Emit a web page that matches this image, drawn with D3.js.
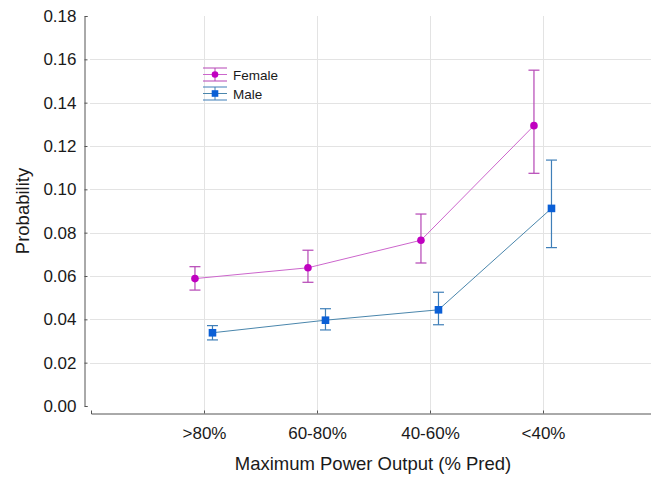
<!DOCTYPE html>
<html>
<head>
<meta charset="utf-8">
<script src="https://cdn.jsdelivr.net/npm/d3@7"></script>
<style>
  body { margin: 0; background: #fff; }
  svg { display: block; font-family: "Liberation Sans", Arial, sans-serif; }
</style>
</head>
<body>
<script>
const categories = [">80%", "60-80%", "40-60%", "<40%"];
const femaleMean = [0.0588, 0.0638, 0.0765, 0.1294];
const femaleLow  = [0.0535, 0.0571, 0.0660, 0.1074];
const femaleHigh = [0.0643, 0.0719, 0.0886, 0.1550];
const maleMean = [0.0338, 0.0396, 0.0444, 0.0912];
const maleLow  = [0.0305, 0.0351, 0.0375, 0.0731];
const maleHigh = [0.0371, 0.0449, 0.0525, 0.1135];
const yTicks = [0, 0.02, 0.04, 0.06, 0.08, 0.10, 0.12, 0.14, 0.16, 0.18];

const WIDTH = 651;
const HEIGHT = 477;

const svg = d3.select("body")
  .append("svg")
  .attr("width", WIDTH)
  .attr("height", HEIGHT);

const xScale = d3.scaleLinear().domain([0, 5]).range([91, 656]);
const yScale = d3.scaleLinear().domain([0, 0.18]).range([406, 16]);
const X_AXIS_Y = 413;
const Y_AXIS_X = 84.5;

// gridlines
svg.append("g")
  .selectAll("line")
  .data(yTicks.filter(d => d > 0 && d < 0.18))
  .enter()
  .append("line")
  .attr("x1", 90).attr("x2", WIDTH)
  .attr("y1", d => Math.round(yScale(d)) + 0.5)
  .attr("y2", d => Math.round(yScale(d)) + 0.5)
  .attr("stroke", "#e3e3e3");

svg.append("g")
  .selectAll("line")
  .data(categories)
  .enter()
  .append("line")
  .attr("x1", (d, i) => Math.round(xScale(i + 1)) + 0.5)
  .attr("x2", (d, i) => Math.round(xScale(i + 1)) + 0.5)
  .attr("y1", 16).attr("y2", X_AXIS_Y)
  .attr("stroke", "#e3e3e3");

// axes
const yAxis = d3.axisLeft(yScale)
  .tickValues(yTicks)
  .tickFormat(d3.format(".2f"))
  .tickSize(-3)
  .tickPadding(8);

const gy = svg.append("g")
  .attr("transform", "translate(" + Y_AXIS_X + ",0)")
  .call(yAxis);
gy.selectAll("path, line").attr("stroke", "#555");
gy.selectAll("text").attr("font-size", 17).attr("fill", "#1a1a1a")
  .attr("font-family", "Liberation Sans, Arial, sans-serif");

const xAxis = d3.axisBottom(xScale)
  .tickValues([1, 2, 3, 4])
  .tickFormat(d => categories[d - 1])
  .tickSize(-3)
  .tickPadding(13);

const gx = svg.append("g")
  .attr("transform", "translate(0," + (X_AXIS_Y + 0.5) + ")")
  .call(xAxis);
gx.selectAll("path, line").attr("stroke", "#555");
gx.selectAll("text").attr("font-size", 17).attr("fill", "#1a1a1a")
  .attr("font-family", "Liberation Sans, Arial, sans-serif");

// axis titles
svg.append("text")
  .attr("x", 373).attr("y", 470)
  .attr("text-anchor", "middle")
  .attr("font-size", 18.5)
  .attr("fill", "#1a1a1a")
  .text("Maximum Power Output (% Pred)");

svg.append("text")
  .attr("transform", "translate(29,211) rotate(-90)")
  .attr("text-anchor", "middle")
  .attr("font-size", 18.5)
  .attr("fill", "#1a1a1a")
  .text("Probability");

// series
const series = [
  { name: "Female", mean: femaleMean, low: femaleLow, high: femaleHigh, offset: -0.08,
    line: "#cc66cc", bar: "#b545b5", mark: "#c000c0", shape: "circle" },
  { name: "Male", mean: maleMean, low: maleLow, high: maleHigh, offset: 0.075,
    line: "#4a86ac", bar: "#3f7fb8", mark: "#0a5fd6", shape: "square" }
];

const CAP = 5.5;

series.forEach(s => {
  const pts = s.mean.map((v, i) => ({ x: xScale(i + 1 + s.offset), v: v, lo: s.low[i], hi: s.high[i] }));
  const g = svg.append("g");

  g.append("path")
    .datum(pts)
    .attr("fill", "none")
    .attr("stroke", s.line)
    .attr("stroke-width", 1)
    .attr("d", d3.line().x(d => d.x).y(d => yScale(d.v)));

  const eb = g.selectAll(".eb").data(pts).enter().append("g");
  eb.append("line")
    .attr("x1", d => d.x).attr("x2", d => d.x)
    .attr("y1", d => yScale(d.hi)).attr("y2", d => yScale(d.lo))
    .attr("stroke", s.bar).attr("stroke-width", 1.2);
  eb.append("line")
    .attr("x1", d => d.x - CAP).attr("x2", d => d.x + CAP)
    .attr("y1", d => yScale(d.hi)).attr("y2", d => yScale(d.hi))
    .attr("stroke", s.bar).attr("stroke-width", 1.2);
  eb.append("line")
    .attr("x1", d => d.x - CAP).attr("x2", d => d.x + CAP)
    .attr("y1", d => yScale(d.lo)).attr("y2", d => yScale(d.lo))
    .attr("stroke", s.bar).attr("stroke-width", 1.2);

  if (s.shape === "circle") {
    g.selectAll(".m").data(pts).enter().append("circle")
      .attr("cx", d => d.x).attr("cy", d => yScale(d.v))
      .attr("r", 3.8).attr("fill", s.mark);
  } else {
    g.selectAll(".m").data(pts).enter().append("rect")
      .attr("x", d => d.x - 3.8).attr("y", d => yScale(d.v) - 3.8)
      .attr("width", 7.6).attr("height", 7.6).attr("fill", s.mark);
  }
});

// legend
const legendY = [74.5, 93.5];
series.forEach((s, i) => {
  const cy = legendY[i];
  const lg = svg.append("g");
  lg.append("line").attr("x1", 203).attr("x2", 227).attr("y1", cy).attr("y2", cy)
    .attr("stroke", s.line).attr("stroke-width", 1);
  lg.append("line").attr("x1", 215).attr("x2", 215).attr("y1", cy - 6.5).attr("y2", cy + 6.5)
    .attr("stroke", s.bar).attr("stroke-width", 1);
  lg.append("line").attr("x1", 203).attr("x2", 227).attr("y1", cy - 6.5).attr("y2", cy - 6.5)
    .attr("stroke", s.bar).attr("stroke-width", 1);
  lg.append("line").attr("x1", 203).attr("x2", 227).attr("y1", cy + 6.5).attr("y2", cy + 6.5)
    .attr("stroke", s.bar).attr("stroke-width", 1);
  if (s.shape === "circle") {
    lg.append("circle").attr("cx", 215).attr("cy", cy).attr("r", 3.3).attr("fill", s.mark);
  } else {
    lg.append("rect").attr("x", 211.7).attr("y", cy - 3.3).attr("width", 6.6).attr("height", 6.6).attr("fill", s.mark);
  }
  lg.append("text")
    .attr("x", 233).attr("y", cy + 5)
    .attr("font-size", 13.5)
    .attr("fill", "#1a1a1a")
    .text(s.name);
});
</script>
</body>
</html>
